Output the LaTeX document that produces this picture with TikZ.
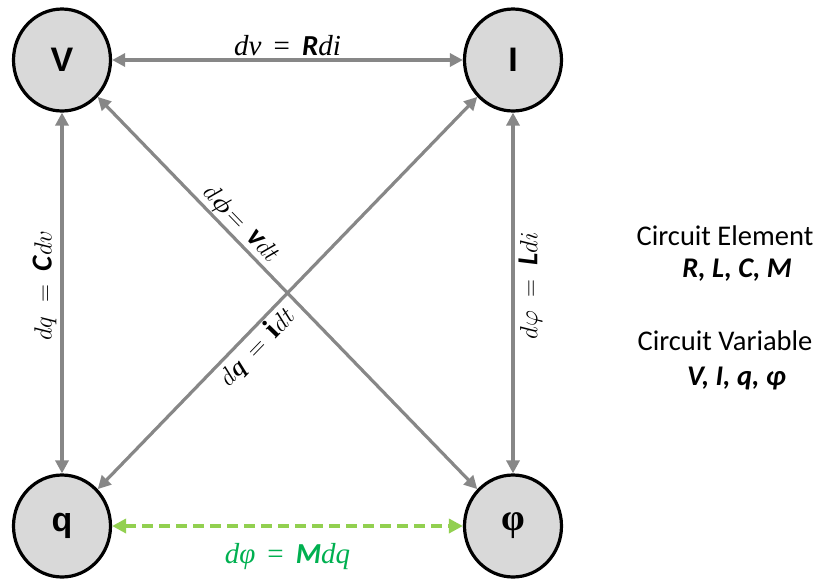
\documentclass[tikz,border=0pt]{standalone}
\usepackage{fontspec}
\usepackage{bm}
\setmainfont{Liberation Serif}
\newfontfamily\calfont{Carlito}
\newfontfamily\arfont{Liberation Sans}
\usetikzlibrary{shapes.geometric,arrows.meta}
\definecolor{arrgray}{HTML}{878787}
\definecolor{nodefill}{HTML}{D9D9D9}
\definecolor{lgreen}{HTML}{92D050}
\definecolor{dgreen}{HTML}{00B050}
\newcommand{\sbi}[1]{\mbox{\calfont\bfseries\itshape #1}}
\begin{document}
\begin{tikzpicture}[x=1pt,y=-1pt,
  var/.style={ellipse,draw=black,line width=3.2pt,fill=nodefill,minimum width=97pt,minimum height=102pt,inner sep=0pt,font=\arfont\bfseries\fontsize{34}{38}\selectfont},
  rel/.style={draw=arrgray,line width=3.2pt,{Triangle[length=13pt,width=13pt]}-{Triangle[length=13pt,width=13pt]}},
  mrel/.style={draw=lgreen,line width=3.6pt,dash pattern=on 11pt off 6pt,{Triangle[length=14pt,width=14pt]}-{Triangle[length=14pt,width=14pt]}},
  eq/.style={font=\fontsize{29}{32}\selectfont, inner sep=2pt},
  deq/.style={font=\fontsize{30}{33}\selectfont, inner sep=1pt},
  side/.style={font=\calfont\fontsize{28.5}{32}\selectfont, inner sep=0pt}
]
\useasboundingbox (0,0) rectangle (820,579);
\node[var] (V) at (62,60) {V};
\node[var] (I) at (513,60) {I};
\node[var] (q) at (62,526) {q};
\node[var] (phi) at (513,526) {\fontspec{Liberation Serif}\bfseries\fontsize{38}{42}\selectfont φ};

\draw[rel] (V) -- (I) node[midway,above=1pt,eq] {\textit{dv}\, = \,\sbi{R}\textit{di}};
\draw[rel] (q) -- (V) node[pos=0.52,sloped,above=2pt,eq] {$dq\;=\;\sbi{C}dv$};
\draw[rel] (phi) -- (I) node[pos=0.52,sloped,below=2pt,eq] {$d\varphi\;=\;\sbi{L}di$};
\draw[rel] (V) -- (phi) node[pos=0.35,sloped,above=0pt,deq] {$d\bm{\phi}\!=\,\sbi{v}dt$};
\draw[rel] (q) -- (I) node[pos=0.39,sloped,below=0pt,deq] {$d\bm{q}\,=\,\mathbf{i}dt$};
\draw[mrel] (q) -- (phi) node[midway,below=14pt,eq,text=dgreen] {\textit{dφ}\, = \,\sbi{M}\textit{dq}};

\node[side] (ce) at (725,236) {Circuit Element};
\node[side,anchor=east] (ceval) at (792,270) {\bfseries\itshape R, L, C, M};
\node[side] (cv) at (725,341) {Circuit Variable};
\node[side,anchor=east] (cvval) at (786,378) {\bfseries\itshape V, I, q, φ};
\end{tikzpicture}
\end{document}
